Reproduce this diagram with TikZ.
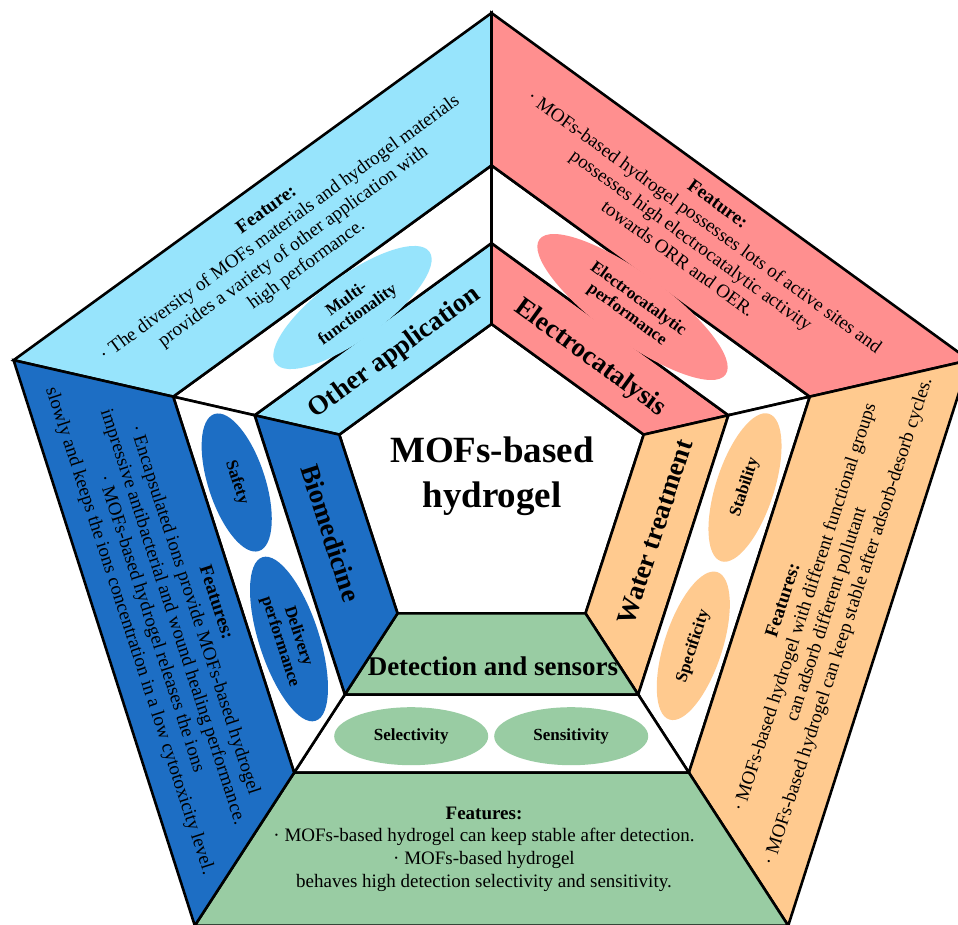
\documentclass[tikz,border=0pt]{standalone}
\usepackage{fontspec}
\setmainfont{Liberation Serif}
\usetikzlibrary{shapes.geometric,calc}
\definecolor{cyanband}{HTML}{97E4FC}
\definecolor{redband}{HTML}{FF8F8F}
\definecolor{blueband}{HTML}{1D6EC4}
\definecolor{orangeband}{HTML}{FFCA8F}
\definecolor{greenband}{HTML}{99CCA3}
\begin{document}
\begin{tikzpicture}[x=1pt,y=-1pt,
  band/.style={draw=black, line width=2.6pt, line join=miter},
  lbl/.style={font=\fontsize{27}{30}\selectfont\bfseries, inner sep=0pt},
  feat/.style={font=\fontsize{19}{22.7}\selectfont, align=center, inner sep=0pt},
  oval/.style={ellipse, inner sep=0pt, font=\fontsize{17}{19}\selectfont\bfseries, align=center},
  title/.style={font=\fontsize{37}{45}\selectfont\bfseries, align=center, inner sep=0pt}]
\useasboundingbox (0,0) rectangle (958,924);
\clip (0,0) rectangle (958,924);
% pentagon vertices
\coordinate (It) at (491.5,324);
\coordinate (Il) at (339.3,434.6);
\coordinate (Ir) at (643.7,434.6);
\coordinate (Ibl) at (397.5,613.4);
\coordinate (Ibr) at (585.5,613.4);
\coordinate (Ot) at (491.5,13);
\coordinate (Ol) at (13.6,360.2);
\coordinate (Or) at (969.4,360.2);
\coordinate (Obl) at (194.8,925.6);
\coordinate (Obr) at (788.2,925.6);
\foreach \v in {t,l,r,bl,br}{
  \coordinate (P\v) at ($(I\v)!0.26!(O\v)$);
  \coordinate (Q\v) at ($(I\v)!0.51!(O\v)$);
}
% inner pentagon
\draw[band, fill=white] (It) -- (Ir) -- (Ibr) -- (Ibl) -- (Il) -- cycle;
% sectors: label band, white band, feature band
\draw[band, fill=cyanband] (Il) -- (It) -- (Pt) -- (Pl) -- cycle;
\draw[band, fill=white] (Pl) -- (Pt) -- (Qt) -- (Ql) -- cycle;
\draw[band, fill=cyanband] (Ql) -- (Qt) -- (Ot) -- (Ol) -- cycle;

\draw[band, fill=redband] (It) -- (Ir) -- (Pr) -- (Pt) -- cycle;
\draw[band, fill=white] (Pt) -- (Pr) -- (Qr) -- (Qt) -- cycle;
\draw[band, fill=redband] (Qt) -- (Qr) -- (Or) -- (Ot) -- cycle;

\draw[band, fill=orangeband] (Ir) -- (Ibr) -- (Pbr) -- (Pr) -- cycle;
\draw[band, fill=white] (Pr) -- (Pbr) -- (Qbr) -- (Qr) -- cycle;
\draw[band, fill=orangeband] (Qr) -- (Qbr) -- (Obr) -- (Or) -- cycle;

\draw[band, fill=greenband] (Ibr) -- (Ibl) -- (Pbl) -- (Pbr) -- cycle;
\draw[band, fill=white] (Pbr) -- (Pbl) -- (Qbl) -- (Qbr) -- cycle;
\draw[band, fill=greenband] (Qbr) -- (Qbl) -- (Obl) -- (Obr) -- cycle;

\draw[band, fill=blueband] (Ibl) -- (Il) -- (Pl) -- (Pbl) -- cycle;
\draw[band, fill=white] (Pbl) -- (Pl) -- (Ql) -- (Qbl) -- cycle;
\draw[band, fill=blueband] (Qbl) -- (Ql) -- (Ol) -- (Obl) -- cycle;

% title
\node[title] (center) at (492,476) {MOFs-based\\hydrogel};
% label band texts
\node[lbl, rotate=36] (other) at (395,353) {Other application};
\node[lbl, rotate=-36] (electro) at (590,358) {Electrocatalysis};
\node[lbl, rotate=-72] (bio) at (331,533) {Biomedicine};
\node[lbl, rotate=72] (water) at (655,532) {Water treatment};
\node[lbl] (detect) at (493,666) {Detection and sensors};
% ellipses
\node[oval, fill=cyanband, minimum width=190pt, minimum height=64pt, rotate=36] (multi) at (352.5,307.5) {Multi-\\functionality};
\node[oval, fill=redband, minimum width=230pt, minimum height=68pt, rotate=-36] (ecperf) at (632.5,307) {Electrocatalytic\\performance};
\node[oval, fill=blueband, minimum width=144pt, minimum height=57pt, rotate=-72] (safety) at (236.7,482.5) {Safety};
\node[oval, fill=blueband, minimum width=172pt, minimum height=60pt, rotate=-72] (delivery) at (289,639) {Delivery\\performance};
\node[oval, fill=orangeband, minimum width=155pt, minimum height=58pt, rotate=72] (stability) at (745,487.5) {Stability};
\node[oval, fill=orangeband, minimum width=155pt, minimum height=58pt, rotate=72] (specificity) at (693.3,645.8) {Specificity};
\node[oval, fill=greenband, minimum width=154pt, minimum height=58pt] (selectivity) at (411.2,736.2) {Selectivity};
\node[oval, fill=greenband, minimum width=154pt, minimum height=58pt] (sensitivity) at (571.2,736.2) {Sensitivity};
% feature texts
\node[feat, rotate=36] (fother) at (287,238) {{\bfseries Feature:}\\· The diversity of MOFs materials and hydrogel materials\\provides a variety of other application with\\high performance.};
\node[feat, rotate=-36] (felectro) at (698,231) {{\bfseries Feature:}\\· MOFs-based hydrogel possesses lots of active sites and\\possesses high electrocatalytic activity\\towards ORR and OER.};
\node[feat, rotate=-72] (fbio) at (172,617) {{\bfseries Features:}\\· Encapsulated ions provide MOFs-based hydrogel\\impressive antibacterial and wound healing performance.\\· MOFs-based hydrogel releases the ions\\slowly and keeps the ions concentration in a low cytotoxicity level.};
\node[feat, rotate=72] (fwater) at (816.6,611.5) {{\bfseries Features:}\\· MOFs-based hydrogel with different functional groups\\can adsorb different pollutant\\· MOFs-based hydrogel can keep stable after adsorb-desorb cycles.};
\node[feat] (fdetect) at (484,849) {{\bfseries Features:}\\· MOFs-based hydrogel can keep stable after detection.\\· MOFs-based hydrogel\\behaves high detection selectivity and sensitivity.};
\end{tikzpicture}
\end{document}
